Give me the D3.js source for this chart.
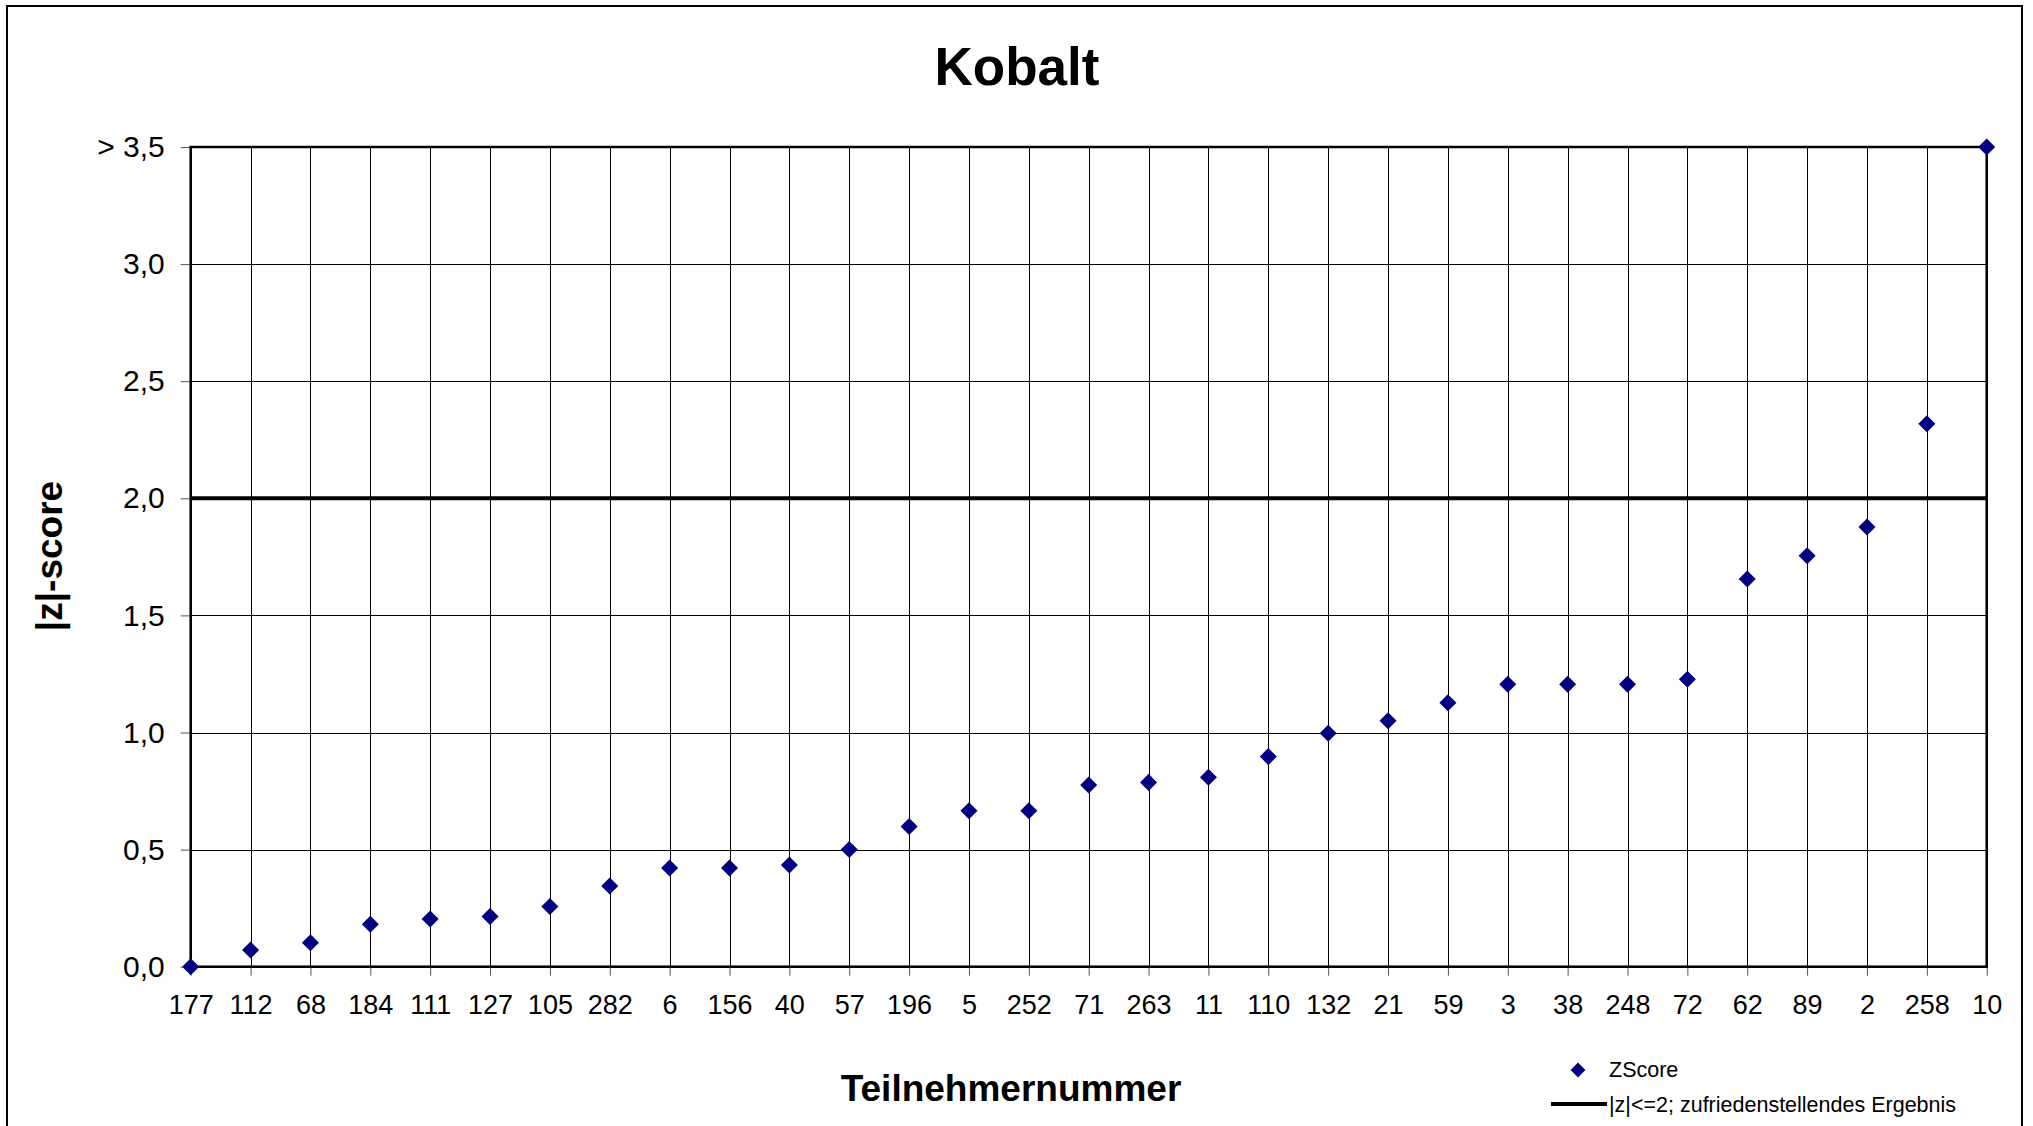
<!DOCTYPE html>
<html>
<head>
<meta charset="utf-8">
<script src="https://cdn.jsdelivr.net/npm/d3@7"></script>
<style>
  html, body { margin: 0; padding: 0; background: #fff; }
  svg { display: block; }
  text { font-family: "Liberation Sans", Arial, sans-serif; fill: #000; }
</style>
</head>
<body>
<div id="chart"></div>
<script>
// ---- data ----
const categories = ["177","112","68","184","111","127","105","282","6","156","40","57","196","5","252","71","263","11","110","132","21","59","3","38","248","72","62","89","2","258","10"];
const zscores = [0.0, 0.071, 0.102, 0.181, 0.204, 0.214, 0.257, 0.345, 0.421, 0.421, 0.434, 0.5, 0.599, 0.666, 0.666, 0.776, 0.787, 0.809, 0.897, 0.997, 1.05, 1.127, 1.206, 1.206, 1.206, 1.227, 1.655, 1.755, 1.877, 2.318, 3.5];
const yTicks = [0, 0.5, 1.0, 1.5, 2.0, 2.5, 3.0, 3.5];
const yTickLabels = ["0,0", "0,5", "1,0", "1,5", "2,0", "2,5", "3,0", "> 3,5"];
const thresholdValue = 2.0;
const titleText = "Kobalt";
const xTitle = "Teilnehmernummer";
const yTitle = "|z|-score";
const legendLabels = ["ZScore", "|z|<=2; zufriedenstellendes Ergebnis"];

// ---- layout ----
const W = 2033, H = 1126;
const plot = { left: 190.7, right: 1986.7, top: 147, bottom: 966.7 };
const navy = "#000080";

const svg = d3.select("#chart").append("svg").attr("width", W).attr("height", H);

// outer chart border
svg.append("rect").attr("x", 7).attr("y", 6).attr("width", 2015).attr("height", 1140)
  .attr("fill", "#fff").attr("stroke", "#000").attr("stroke-width", 2);

const x = d3.scalePoint().domain(categories).range([plot.left, plot.right]);
const y = d3.scaleLinear().domain([0, 3.5]).range([plot.bottom, plot.top]);

// vertical gridlines
svg.append("g").selectAll("line").data(categories).join("line")
  .attr("x1", d => Math.round(x(d)) + 0.5).attr("x2", d => Math.round(x(d)) + 0.5)
  .attr("y1", plot.top).attr("y2", plot.bottom)
  .attr("stroke", "#000").attr("stroke-width", 1);

// horizontal gridlines
svg.append("g").selectAll("line").data(yTicks).join("line")
  .attr("x1", plot.left).attr("x2", plot.right)
  .attr("y1", d => Math.round(y(d)) + 0.5).attr("y2", d => Math.round(y(d)) + 0.5)
  .attr("stroke", "#000").attr("stroke-width", 1);

// y axis
const yAxis = d3.axisLeft(y).tickValues(yTicks)
  .tickFormat((d, i) => yTickLabels[i]).tickSize(10).tickPadding(16);
const gy = svg.append("g").attr("transform", `translate(${plot.left},0)`).call(yAxis);
gy.select(".domain").remove();
gy.selectAll(".tick line").attr("stroke", "#555").attr("stroke-width", 1);
gy.selectAll(".tick text").attr("font-size", 30).attr("font-family", '"Liberation Sans", Arial, sans-serif').attr("fill", "#000");

// x axis
const xAxis = d3.axisBottom(x).tickSize(9).tickPadding(19);
const gx = svg.append("g").attr("transform", `translate(0,${plot.bottom})`).call(xAxis);
gx.select(".domain").remove();
gx.selectAll(".tick line").attr("stroke", "#555").attr("stroke-width", 1);
gx.selectAll(".tick text").attr("font-size", 27).attr("font-family", '"Liberation Sans", Arial, sans-serif').attr("fill", "#000");

// threshold line
svg.append("line")
  .attr("x1", plot.left).attr("x2", plot.right)
  .attr("y1", y(thresholdValue)).attr("y2", y(thresholdValue))
  .attr("stroke", "#000").attr("stroke-width", 4);

// plot frame
svg.append("rect")
  .attr("x", plot.left).attr("y", y(3.5))
  .attr("width", plot.right - plot.left).attr("height", y(0) - y(3.5))
  .attr("fill", "none").attr("stroke", "#000").attr("stroke-width", 2.5);

// points
const diamond = d3.symbol().type(d3.symbolSquare).size(145);
svg.append("g").selectAll("path").data(zscores).join("path")
  .attr("d", diamond)
  .attr("transform", (d, i) => `translate(${x(categories[i])},${y(d)}) rotate(45)`)
  .attr("fill", navy);

// title
svg.append("text").attr("x", 1017).attr("y", 85).attr("text-anchor", "middle")
  .attr("font-size", 53).attr("font-weight", "bold").text(titleText);

// axis titles
svg.append("text").attr("x", 1011).attr("y", 1101).attr("text-anchor", "middle")
  .attr("font-size", 37).attr("font-weight", "bold").text(xTitle);
svg.append("text").attr("transform", `translate(62,556) rotate(-90)`).attr("text-anchor", "middle")
  .attr("font-size", 37).attr("font-weight", "bold").text(yTitle);

// legend
const lg = svg.append("g");
lg.append("path").attr("d", d3.symbol().type(d3.symbolSquare).size(110))
  .attr("transform", "translate(1578,1070) rotate(45)").attr("fill", navy);
lg.append("text").attr("x", 1609).attr("y", 1077).attr("font-size", 21.5).text(legendLabels[0]);
lg.append("line").attr("x1", 1551).attr("x2", 1607).attr("y1", 1104).attr("y2", 1104)
  .attr("stroke", "#000").attr("stroke-width", 4);
lg.append("text").attr("x", 1609).attr("y", 1112).attr("font-size", 21.5).text(legendLabels[1]);
</script>
</body>
</html>
